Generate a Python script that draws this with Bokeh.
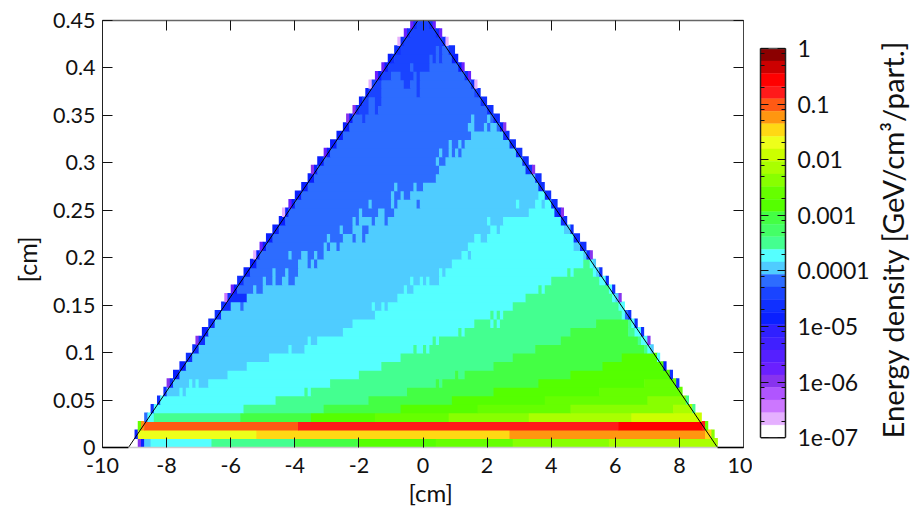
from bokeh.plotting import figure
from bokeh.layouts import row
from bokeh.models import ColumnDataSource, FixedTicker, LinearAxis, LogAxis, Title
from bokeh.embed import file_html
from bokeh.resources import INLINE

FONT = "Lato"
BAND_COLORS = ["#8b0000","#cc0000","#ff0000","#ff1a1a","#ff5a14","#ff9610","#ffd814","#eeff1a",
               "#ccff00","#aaff00","#88ff00","#66ff00","#55ff00","#44ff44","#44ff66","#44ff90",
               "#55ffff","#4fccff","#2d6cff","#1a44ff","#1030ff","#0a20ff","#3020ff","#4020ff",
               "#5520ff","#6a20ff","#8833ee","#b055ff","#cc77ff","#e5b0ff","#ffffff"]

X_TICKS = [-10,-8,-6,-4,-2,0,2,4,6,8,10]
Y_TICKS = [0,0.05,0.1,0.15,0.2,0.25,0.3,0.35,0.4,0.45]
Y_LABELS = ["0","0.05","0.1","0.15","0.2","0.25","0.3","0.35","0.4","0.45"]
CB_TICKS = [1,0.1,0.01,0.001,0.0001,1e-5,1e-6,1e-7]
CB_LABELS = ["1","0.1","0.01","0.001","0.0001","1e-05","1e-06","1e-07"]
CB_MINOR = [m*d for d in [0.1,0.01,0.001,1e-4,1e-5,1e-6,1e-7] for m in (8,5,2)]

OUTLINE_X = [-9.19,-0.16,0.155,9.19]
OUTLINE_Y = [0,0.45,0.45,0]
ROW_HEIGHT = 0.009

# each row: x start (cm), colour band, ..., final x end
row_00 = [-8.9,27,-8.8,22,-8.7,18,-8.5,17,-6.6,16,-4.0,14,-2.0,13,0.4,12,2.8,11,5.8,10,9.2]
row_01 = [-9.0,22,-8.9,8,-5.2,7,2.7,6,8.8,7,9.0,11,9.1]
row_02 = [-8.9,12,-8.8,6,-8.7,5,-3.9,4,6.1,3,8.7,4,8.8,12,8.9]
row_03 = [-8.7,19,-8.6,17,-8.4,16,-5.7,14,-3.5,13,-1.5,12,0.8,11,3.3,10,6.5,9,8.7]
row_04 = [-8.5,21,-8.4,17,-5.6,16,-3.1,14,-0.7,13,1.7,12,4.6,11,7.8,10,8.4,16,8.5]
row_05 = [-8.3,21,-8.2,17,-4.6,16,-1.7,14,0.9,13,3.8,12,7.0,11,8.2,16,8.3]
row_06 = [-8.1,21,-8.0,18,-7.6,17,-7.5,18,-7.4,17,-3.7,16,-3.6,17,-3.5,16,-0.5,14,2.2,13,5.5,12,8.1]
row_07 = [-8.0,27,-7.9,21,-7.8,18,-7.3,17,-7.2,18,-7.1,17,-7.0,18,-6.7,17,-2.9,16,0.4,14,0.5,16,0.6,14,3.6,13,6.9,12,7.9,21,8.0]
row_08 = [-7.8,22,-7.6,18,-6.1,17,-2.0,16,1.0,14,1.1,16,1.3,14,4.6,13,7.7,21,7.8]
row_09 = [-7.6,22,-7.4,18,-5.5,17,-1.3,16,2.2,14,5.6,13,7.5,22,7.6]
row_10 = [-7.4,21,-7.2,18,-4.8,17,-0.7,16,2.8,14,6.2,13,7.3,17,7.4]
row_11 = [-7.2,21,-7.0,18,-4.2,17,-4.1,18,-3.7,17,-0.3,16,-0.2,17,0.0,16,0.1,17,0.2,16,3.5,14,6.9,16,7.0,17,7.1,18,7.2]
row_12 = [-7.1,27,-7.0,21,-6.8,18,-3.6,17,-3.5,18,-3.3,17,0.3,16,0.4,17,0.5,16,4.3,14,6.7,16,6.8,17,7.0,27,7.1]
row_13 = [-6.9,22,-6.7,18,-2.5,17,1.1,16,1.2,17,1.3,16,4.6,14,6.4,16,6.6,17,6.8,21,6.9]
row_14 = [-6.7,21,-6.5,18,-2.2,17,1.6,16,2.1,17,2.2,16,2.3,17,2.4,16,5.4,14,6.4,16,6.5,17,6.6,21,6.7]
row_15 = [-6.5,21,-6.3,18,-1.5,17,2.1,16,2.2,17,2.3,16,2.4,17,2.5,16,6.2,17,6.3,19,6.4,21,6.5]
row_16 = [-6.3,21,-6.0,18,-5.7,19,-5.6,18,-1.6,17,-1.5,18,-1.3,17,-1.2,18,-1.1,17,2.8,16,6.1,17,6.3]
row_17 = [-6.2,29,-6.1,21,-5.5,18,-0.8,17,3.2,16,5.9,17,6.0,18,6.1,27,6.2]
row_18 = [-6.0,26,-5.9,22,-5.8,19,-5.3,18,-5.2,19,-5.0,18,-0.6,17,-0.5,18,-0.3,17,3.6,16,3.7,17,3.8,16,5.8,17,5.9,21,6.0]
row_19 = [-5.8,21,-5.6,19,-5.0,18,-4.9,19,-4.7,18,-4.6,19,-4.4,18,-4.2,19,-4.0,18,-0.4,17,-0.3,18,-0.1,17,0.0,18,0.1,17,0.2,18,0.5,17,4.0,16,5.5,17,5.7,21,5.8]
row_20 = [-5.6,22,-5.4,19,-4.7,18,-4.6,19,-4.3,18,-4.2,19,-3.9,18,0.5,17,0.6,18,0.7,17,4.5,16,4.6,17,4.7,16,5.3,17,5.4,18,5.5,21,5.6]
row_21 = [-5.4,22,-5.2,19,-3.9,18,-3.6,19,-3.5,18,-3.4,19,-3.3,18,0.9,17,5.0,16,5.2,17,5.3,18,5.4]
row_22 = [-5.3,30,-5.2,22,-5.1,19,-4.2,18,-4.1,19,-3.8,18,-3.6,19,-3.4,18,-3.3,19,-3.1,18,1.2,17,1.4,18,1.5,17,5.0,18,5.1,21,5.2,27,5.3]
row_23 = [-5.1,26,-5.0,22,-4.9,19,-3.1,18,-3.0,19,-2.9,18,-2.7,19,-2.6,18,1.4,17,4.7,18,4.9,21,5.1]
row_24 = [-4.9,22,-4.7,19,-3.0,18,-2.9,19,-2.5,18,-2.2,19,-2.1,18,-1.9,19,-1.8,18,1.6,17,1.8,18,2.0,17,4.7,21,4.9]
row_25 = [-4.7,22,-4.5,19,-2.6,18,-2.5,19,-2.2,18,-1.9,19,-1.7,18,2.1,17,2.3,18,2.4,17,4.4,18,4.6,21,4.7]
row_26 = [-4.5,22,-4.3,19,-2.2,18,-2.1,19,-2.0,18,-1.6,19,-1.5,18,-1.2,19,-1.1,18,2.0,17,2.1,18,2.5,17,4.3,21,4.5]
row_27 = [-4.4,30,-4.3,22,-4.2,19,-2.0,18,-1.9,19,-1.4,18,-1.2,19,-0.9,18,3.3,17,4.1,21,4.2,22,4.3,27,4.4]
row_28 = [-4.2,26,-4.1,22,-4.0,19,-1.7,18,-1.6,19,-1.0,18,-0.9,19,-0.8,18,-0.2,19,-0.1,18,2.9,17,3.0,18,3.5,17,3.7,18,3.8,17,4.0,21,4.2]
row_29 = [-4.0,22,-3.8,19,-1.0,18,-0.9,19,-0.7,18,-0.6,19,-0.4,18,3.6,17,3.8,21,4.0]
row_30 = [-3.8,22,-3.6,19,-0.9,18,-0.8,19,-0.3,18,-0.2,19,0.0,18,3.6,21,3.8]
row_31 = [-3.6,22,-3.4,19,0.4,18,3.5,21,3.7]
row_32 = [-3.5,27,-3.4,22,-3.3,19,0.5,18,3.2,21,3.4,27,3.5]
row_33 = [-3.3,22,-3.1,19,0.4,18,0.5,19,0.7,18,3.1,21,3.3]
row_34 = [-3.1,26,-3.0,22,-2.9,19,0.5,18,0.6,19,0.8,18,0.9,19,1.0,18,1.1,19,1.2,18,2.9,21,3.1]
row_35 = [-2.9,22,-2.7,19,0.8,18,0.9,19,1.1,18,1.2,19,1.3,18,2.7,21,2.9]
row_36 = [-2.7,22,-2.5,19,1.5,18,2.5,21,2.7]
row_37 = [-2.5,22,-2.3,19,1.4,18,1.6,19,1.9,18,2.0,19,2.1,18,2.3,19,2.4,22,2.5,27,2.6]
row_38 = [-2.4,27,-2.3,22,-2.2,19,-1.9,20,-1.8,19,1.5,18,1.6,19,2.0,18,2.1,19,2.2,21,2.4]
row_39 = [-2.2,27,-2.1,21,-2.0,20,-1.7,19,-1.5,20,-1.4,19,2.0,21,2.2]
row_40 = [-2.0,22,-1.9,20,-1.7,19,-1.5,20,-1.3,19,1.8,21,2.0]
row_41 = [-1.8,22,-1.7,20,-1.3,19,-0.2,20,-0.1,19,1.6,20,1.7,21,1.8]
row_42 = [-1.7,30,-1.6,20,-1.3,19,-0.6,20,-0.4,19,-0.2,20,-0.1,19,1.5,21,1.6,30,1.7]
row_43 = [-1.5,26,-1.4,22,-1.3,20,-1.0,19,-0.7,20,-0.3,19,-0.2,20,-0.1,19,1.3,21,1.4,26,1.5]
row_44 = [-1.3,26,-1.2,22,-1.1,20,-0.4,19,-0.3,20,0.2,19,1.1,22,1.2,26,1.3]
row_45 = [-1.1,22,-1.0,21,-0.9,20,0.2,19,0.3,20,0.4,19,0.5,20,0.6,19,0.9,22,1.1]
row_46 = [-0.9,21,-0.7,20,0.4,19,0.5,20,0.6,19,0.8,21,1.0]
row_47 = [-0.8,30,-0.7,21,-0.6,20,0.6,21,0.7,30,0.8]
row_48 = [-0.6,26,-0.5,21,-0.4,20,0.4,21,0.5,26,0.6]
row_49 = [-0.4,26,-0.3,21,-0.2,20,0.2,21,0.3,26,0.4]

ROWS = [row_00,row_01,row_02,row_03,row_04,row_05,row_06,row_07,row_08,row_09,
        row_10,row_11,row_12,row_13,row_14,row_15,row_16,row_17,row_18,row_19,
        row_20,row_21,row_22,row_23,row_24,row_25,row_26,row_27,row_28,row_29,
        row_30,row_31,row_32,row_33,row_34,row_35,row_36,row_37,row_38,row_39,
        row_40,row_41,row_42,row_43,row_44,row_45,row_46,row_47,row_48,row_49]

# overlap hides the anti-aliased seams between neighbouring cells
OVER_X, OVER_Y = 0.02, 0.0009
left, right, bottom, top, colors = [], [], [], [], []
for r, cells in enumerate(ROWS):
    for k in range(0, len(cells) - 1, 2):
        last = k + 2 == len(cells) - 1
        left.append(cells[k]); right.append(cells[k + 2] + (0 if last else OVER_X))
        bottom.append(r * ROW_HEIGHT); top.append((r + 1) * ROW_HEIGHT + OVER_Y)
        colors.append(BAND_COLORS[cells[k + 1] - 1])

TICK = "#111111"
H, B_TOP, B_BOTTOM = 516, 20, 69
p = figure(width=752, height=H, x_range=(-10, 10), y_range=(0, 0.45), title=None,
           output_backend="svg", toolbar_location=None, min_border_left=100, min_border_top=B_TOP,
           min_border_right=9, min_border_bottom=B_BOTTOM)
p.grid.visible = False
p.outline_line_color = None
p.quad(left="l", right="r", bottom="b", top="t", fill_color="c", line_color=None,
       source=ColumnDataSource(dict(l=left, r=right, b=bottom, t=top, c=colors)))
p.line(OUTLINE_X[:2], OUTLINE_Y[:2], line_color="black", line_width=1)
p.line(OUTLINE_X[2:], OUTLINE_Y[2:], line_color="black", line_width=1)
p.line([-10, OUTLINE_X[0]], [0, 0], line_color="black", line_width=1.5, level="overlay")
p.line([OUTLINE_X[3], 10], [0, 0], line_color="black", line_width=1.5, level="overlay")

def style(ax, ticks, labels):
    ax.ticker = FixedTicker(ticks=ticks)
    ax.major_tick_in = 10; ax.major_tick_out = 0
    ax.minor_tick_in = 0; ax.minor_tick_out = 0
    ax.major_tick_line_color = TICK; ax.major_tick_line_width = 1
    ax.major_label_text_font = FONT; ax.major_label_text_font_size = "21.5px"
    ax.major_label_text_color = "#111111"
    ax.major_label_overrides = dict(zip(ticks, labels))

xa = p.xaxis[0]; ya = p.yaxis[0]
style(xa, X_TICKS, [str(t) for t in X_TICKS]); style(ya, Y_TICKS, Y_LABELS)
xa.axis_line_color = "#cccccc"; xa.axis_line_width = 1.5
ya.axis_line_color = "#222222"; ya.axis_line_width = 1
xa.major_label_standoff = 10; ya.major_label_standoff = 7

ta = LinearAxis(); style(ta, X_TICKS, [""] * len(X_TICKS)); ta.axis_line_color = "#666666"; ta.axis_line_width = 1.5
ta.major_label_standoff = 0
ra = LinearAxis(); style(ra, Y_TICKS, [""] * len(Y_TICKS)); ra.axis_line_color = "#444444"; ra.axis_line_width = 1
ra.major_label_standoff = 0
p.add_layout(ta, "above"); p.add_layout(ra, "right")

def side_title(text, size, offset, standoff):
    return Title(text=text, align="left", offset=offset, standoff=standoff, text_font=FONT,
                 text_font_size=size, text_font_style="normal", text_color="#111111")

p.add_layout(side_title("[cm]", "24px", 306, 0), "below")
p.add_layout(side_title("[cm]", "25px", 165, 18), "left")

# colour bar: its frame is kept level with the main frame, the bar itself spans 1e-7 .. 1
n = len(BAND_COLORS)
edges = [10 ** (-7 * i / n) for i in range(n + 1)]
DECADE_PX = 55.6
cb_low = 10 ** (-7 - 9.7 / DECADE_PX)
cb_high = 10 ** (28 / DECADE_PX)
q = figure(width=120, height=H, y_axis_type="log", y_range=(cb_low, cb_high), title=None,
           x_range=(0, 1), output_backend="svg", toolbar_location=None, y_axis_location="right",
           min_border_left=8, min_border_top=B_TOP, min_border_right=84, min_border_bottom=B_BOTTOM)
q.grid.visible = False
q.xaxis.visible = False
q.outline_line_color = None
q.quad(left=0, right=1, top=edges[:-1], bottom=edges[1:], fill_color=BAND_COLORS, line_color=BAND_COLORS, line_width=0.4)
q.line([0, 1], [CB_TICKS[0]] * 2, line_color="#555555", line_width=1.5)
q.line([0, 1], [CB_TICKS[-1]] * 2, line_color="#222222", line_width=1.5)

def cb_style(ax, labels):
    ax.ticker = FixedTicker(ticks=CB_TICKS, minor_ticks=CB_MINOR)
    ax.bounds = (CB_TICKS[-1], CB_TICKS[0])
    ax.major_tick_in = 8; ax.major_tick_out = 0; ax.minor_tick_in = 4; ax.minor_tick_out = 0
    ax.major_tick_line_color = TICK; ax.minor_tick_line_color = TICK
    ax.axis_line_color = "#222222"; ax.axis_line_width = 1.5
    ax.major_label_text_font = FONT; ax.major_label_text_font_size = "23px"
    ax.major_label_text_color = "#111111"
    ax.major_label_overrides = dict(zip(CB_TICKS, labels))

ra2 = q.yaxis[0]; cb_style(ra2, CB_LABELS)
ra2.major_label_standoff = 12
la2 = LogAxis(); cb_style(la2, [""] * len(CB_TICKS)); la2.major_label_standoff = 0
q.add_layout(la2, "left")

# narrow empty figure that only carries the colour bar's title, reading upwards
t = figure(width=42, height=H, x_range=(0, 1), y_range=(0, 1), title=None, output_backend="svg",
           toolbar_location=None, min_border_left=37, min_border_right=0,
           min_border_top=B_TOP, min_border_bottom=B_BOTTOM)
t.grid.visible = False
t.axis.visible = False
t.outline_line_color = None
t.add_layout(side_title("Energy density [GeV/cm³/part.]", "29.3px", 9, 0), "left")

open("out.html", "w").write(file_html(row(p, q, t), INLINE))
